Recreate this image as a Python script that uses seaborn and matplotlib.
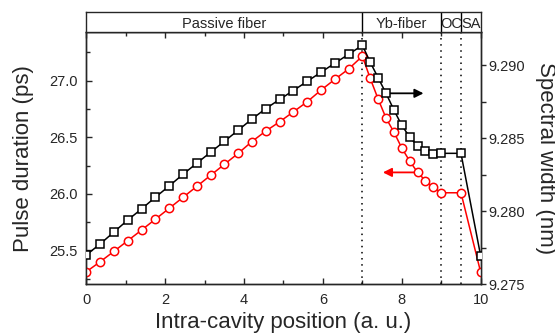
import matplotlib
matplotlib.use("Agg")
import matplotlib.pyplot as plt
from matplotlib.ticker import MultipleLocator
import seaborn as sns
import pandas as pd

# ---- data ----
position = [0, 0.35, 0.7, 1.05, 1.4, 1.75, 2.1, 2.45, 2.8, 3.15, 3.5, 3.85, 4.2,
            4.55, 4.9, 5.25, 5.6, 5.95, 6.3, 6.65, 7.0,
            7.2, 7.4, 7.6, 7.8, 8.0, 8.2, 8.4, 8.6, 8.8, 9.0,
            9.5, 10.0]
pulse_duration = [25.311, 25.399, 25.491, 25.585, 25.679, 25.775, 25.871, 25.968,
                  26.065, 26.163, 26.260, 26.357, 26.462, 26.554, 26.636, 26.724,
                  26.813, 26.916, 27.011, 27.103, 27.216,
                  27.019, 26.837, 26.669, 26.545, 26.404, 26.289, 26.189, 26.115,
                  26.057, 26.009,
                  26.009, 25.306]
spectral_width = [9.27701, 9.27776, 9.27858, 9.27940, 9.28016, 9.28096, 9.28173,
                  9.28253, 9.28329, 9.28404, 9.28479, 9.28555, 9.28632, 9.28703,
                  9.28766, 9.28827, 9.28890, 9.28952, 9.29014, 9.29075, 9.29137,
                  9.29021, 9.28914, 9.28808, 9.28694, 9.28588, 9.28509, 9.28447,
                  9.28410, 9.28392, 9.28397,
                  9.28397, 9.27694]
section_names = ["Passive fiber", "Yb-fiber", "OC", "SA"]
section_edges = [0, 7, 9, 9.5, 10]

df = pd.DataFrame({"pos": position, "tau": pulse_duration, "sw": spectral_width})

sns.set_style("ticks")
plt.rcParams["font.family"] = ["Liberation Sans", "DejaVu Sans"]
plt.rcParams["axes.linewidth"] = 1.0

fig = plt.figure(figsize=(5.55, 3.34), dpi=100)
L, B, W, H = 0.1555, 0.1488, 0.7106, 0.7554
ax = fig.add_axes([L, B, W, H])
ax2 = ax.twinx()
hax = fig.add_axes([L, B + H, W, 0.06])

# red: pulse duration (left axis)
sns.lineplot(data=df, x="pos", y="tau", ax=ax, color="#ff0000", marker="o",
             markersize=6, markerfacecolor="white", markeredgecolor="#ff0000",
             markeredgewidth=1.1, linewidth=1.1, estimator=None, zorder=3)
# black: spectral width (right axis)
sns.lineplot(data=df, x="pos", y="sw", ax=ax2, color="black", marker="s",
             markersize=5.2, markerfacecolor="white", markeredgecolor="black",
             markeredgewidth=1.1, linewidth=1.1, estimator=None, zorder=3)

for xv in section_edges[1:-1]:
    ax.axvline(xv, color="black", linestyle=(0, (1, 3)), linewidth=1.1, zorder=1)

ax.set_xlim(0, 10)
ax.set_ylim(25.2, 27.43)
ax2.set_ylim(9.275, 9.29228)

ax.xaxis.set_major_locator(MultipleLocator(2))
ax.xaxis.set_minor_locator(MultipleLocator(1))
ax.yaxis.set_major_locator(MultipleLocator(0.5))
ax.yaxis.set_minor_locator(MultipleLocator(0.25))
ax2.yaxis.set_major_locator(MultipleLocator(0.005))
ax2.yaxis.set_minor_locator(MultipleLocator(0.0025))
ax.yaxis.set_major_formatter(matplotlib.ticker.FormatStrFormatter("%.1f"))
ax2.yaxis.set_major_formatter(matplotlib.ticker.FormatStrFormatter("%.3f"))

ax.tick_params(axis="both", which="both", direction="in", labelsize=10.5, width=1.0)
ax.tick_params(axis="x", which="both", top=True)
ax.tick_params(which="major", length=4.5, pad=6)
ax.tick_params(which="minor", length=3)
ax.tick_params(axis="x", which="major", top=True, length=4.5)
ax2.tick_params(axis="y", which="both", direction="out", labelsize=10.5, width=1.0, pad=2)
ax2.tick_params(axis="y", which="major", length=3.5)
ax2.tick_params(axis="y", which="minor", length=3.5)

ax.set_xlabel("Intra-cavity position (a. u.)", fontsize=16, labelpad=4)
ax.set_ylabel("Pulse duration (ps)", fontsize=16, labelpad=11)
ax2.set_ylabel("Spectral width (nm)", fontsize=16, rotation=270, labelpad=22)

# direction arrows
ax2.annotate("", xy=(8.55, 9.28808), xytext=(7.62, 9.28808),
             arrowprops=dict(arrowstyle="-|>", color="black", lw=1.3,
                             mutation_scale=13, shrinkA=0, shrinkB=0), zorder=2)
ax.annotate("", xy=(7.52, 26.189), xytext=(8.4, 26.189),
            arrowprops=dict(arrowstyle="-|>", color="#ff0000", lw=1.3,
                            mutation_scale=13, shrinkA=0, shrinkB=0), zorder=2)

# header band with section labels
hax.set_xlim(0, 10)
hax.set_ylim(0, 1)
hax.set_xticks([])
hax.set_yticks([])
for xv in section_edges[1:-1]:
    hax.axvline(xv, color="black", linewidth=1.0)
for name, a, b in zip(section_names, section_edges[:-1], section_edges[1:]):
    hax.text((a + b) / 2, 0.42, name, ha="center", va="center", fontsize=10.5)

fig.savefig("out.png", dpi=100)
